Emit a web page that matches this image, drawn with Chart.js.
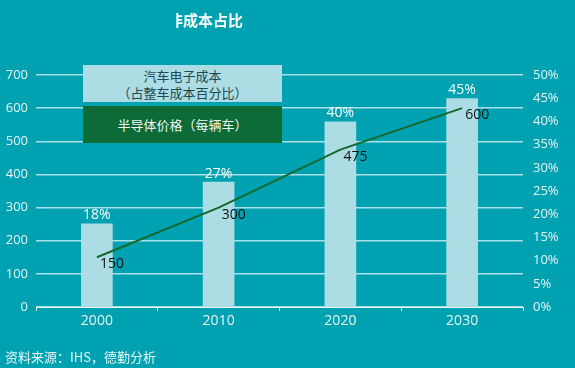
<!DOCTYPE html>
<html>
<head>
<meta charset="utf-8">
<script src="https://cdn.jsdelivr.net/npm/chart.js@4.4.1/dist/chart.umd.min.js"></script>
<style>
    body { margin: 0; background: #00a1b1; width: 575px; height: 368px; overflow: hidden; position: relative; font-family: "Noto Sans CJK SC", "Open Sans", sans-serif; }
    #wrap { position: absolute; left: 0; top: 0; width: 575px; height: 368px; }
    .title { position: absolute; left: 176px; top: 9px; width: 80px; overflow: hidden; white-space: nowrap; color: #fff; font-weight: bold; font-size: 15px; }
    .title span { margin-left: -8px; }
    .legend { position: absolute; left: 83px; width: 199px; text-align: center; font-size: 13px; }
    .l1 { top: 65px; height: 37px; background: #acdce4; color: #1d4a52; line-height: 17px; padding-top: 2px; box-sizing: border-box; }
    .l2 { top: 106px; height: 37px; background: #0c6b37; color: #f2f7f2; line-height: 37px; }
    .source { position: absolute; left: 5px; top: 347px; color: #e9f6f8; font-size: 13px; }
</style>
</head>
<body>
<div id="wrap"><canvas id="chart" width="575" height="368"></canvas></div>
<div class="title"><span>非成本占比</span></div>
<div class="legend l1">汽车电子成本<br>（占整车成本百分比）</div>
<div class="legend l2">半导体价格（每辆车）</div>
<div class="source">资料来源：IHS，德勤分析</div>
<script>
const years = ['2000', '2010', '2020', '2030'];
const sharePct = [18, 27, 40, 45];       // 汽车电子成本占整车成本百分比
const chipPrice = [150, 300, 475, 600];  // 半导体价格（每辆车）

const tickColor = '#e6f5f7';
const gridColor = 'rgba(200,236,242,0.85)';

const labelPlugin = {
    id: 'valueLabels',
    afterDatasetsDraw(chart) {
        const ctx = chart.ctx;
        ctx.save();
        ctx.font = '14px "Open Sans", sans-serif';
        // bar labels
        chart.getDatasetMeta(0).data.forEach((bar, i) => {
            ctx.fillStyle = '#ffffff';
            ctx.textAlign = 'center';
            ctx.textBaseline = 'bottom';
            ctx.fillText(sharePct[i] + '%', bar.x, bar.y - 1);
        });
        // line labels
        chart.getDatasetMeta(1).data.forEach((pt, i) => {
            ctx.fillStyle = '#111111';
            ctx.textAlign = 'left';
            ctx.textBaseline = 'middle';
            ctx.fillText(chipPrice[i], pt.x + 3, pt.y + 7);
        });
        ctx.restore();
    }
};

const ctx = document.getElementById('chart').getContext('2d');
new Chart(ctx, {
    type: 'bar',
    data: {
        labels: years,
        datasets: [
            {
                label: '汽车电子成本',
                data: sharePct,
                yAxisID: 'yr',
                backgroundColor: '#acdce4',
                barPercentage: 0.26,
                categoryPercentage: 1,
                order: 2
            },
            {
                type: 'line',
                label: '半导体价格',
                data: chipPrice,
                yAxisID: 'y',
                borderColor: '#15692f',
                borderWidth: 2,
                pointRadius: 0,
                tension: 0,
                order: 1
            }
        ]
    },
    options: {
        responsive: false,
        animation: false,
        layout: { padding: { top: 75, left: 0, right: 0, bottom: 0 } },
        plugins: {
            legend: { display: false },
            tooltip: { enabled: false }
        },
        scales: {
            x: {
                offset: true,
                grid: { display: true, drawOnChartArea: false, drawTicks: true, tickLength: 4, color: '#e6f5f7', offset: true },
                border: { color: '#e6f5f7', width: 1 },
                ticks: { color: tickColor, font: { size: 14, family: '"Open Sans", sans-serif' }, padding: 2 },
                afterFit: s => { s.height = 61; }
            },
            y: {
                position: 'left',
                min: 0,
                max: 700,
                ticks: { stepSize: 100, color: tickColor, font: { size: 13, family: '"Open Sans", sans-serif' }, padding: 8 },
                grid: { color: gridColor, lineWidth: 1.5, drawTicks: false },
                border: { display: false },
                afterFit: s => { s.width = 36; }
            },
            yr: {
                position: 'right',
                min: 0,
                max: 50,
                ticks: {
                    stepSize: 5,
                    color: tickColor,
                    font: { size: 13, family: '"Open Sans", sans-serif' },
                    padding: 2,
                    callback: v => v + '%'
                },
                grid: { display: false },
                border: { display: false },
                afterFit: s => { s.width = 52; }
            }
        }
    },
    plugins: [labelPlugin]
});
</script>
</body>
</html>
